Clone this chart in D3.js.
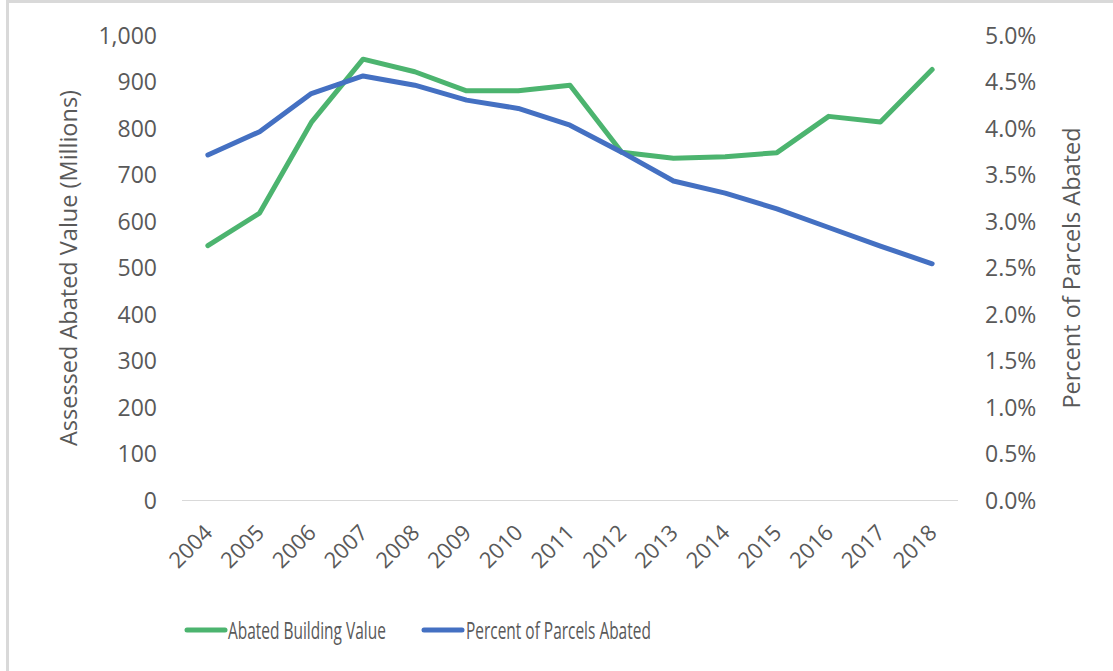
<!DOCTYPE html>
<html>
<head>
<meta charset="utf-8">
<script src="https://cdn.jsdelivr.net/npm/d3@7"></script>
<style>
  html, body { margin: 0; padding: 0; background: #fff; }
  svg { display: block; }
  text { font-family: "Open Sans", "Noto Sans", sans-serif; fill: #595959; }
</style>
</head>
<body>
<svg id="chart" width="1113" height="671"></svg>
<script>
// Years on the category axis
const years = ["2004","2005","2006","2007","2008","2009","2010","2011","2012","2013","2014","2015","2016","2017","2018"];
// Assessed abated building value, millions of dollars (left axis)
const abatedValue = [547, 617, 812, 948, 921, 880, 880, 892, 748, 735, 738, 747, 825, 813, 926];
// Share of parcels abated, percent (right axis)
const pctAbated = [3.71, 3.96, 4.37, 4.56, 4.46, 4.30, 4.21, 4.03, 3.74, 3.43, 3.30, 3.13, 2.93, 2.73, 2.54];
// Tick values for both value axes
const leftTicks = [0, 100, 200, 300, 400, 500, 600, 700, 800, 900, 1000];
const rightTicks = [0, 0.5, 1.0, 1.5, 2.0, 2.5, 3.0, 3.5, 4.0, 4.5, 5.0];
// Series names
const seriesNames = ["Abated Building Value", "Percent of Parcels Abated"];
const seriesColors = ["#4cb46f", "#4470c2"];

const svg = d3.select("#chart");

// outer frame
svg.append("rect")
  .attr("x", 7.5).attr("y", 1.5)
  .attr("width", 1130).attr("height", 700)
  .attr("fill", "#fff").attr("stroke", "#d9d9d9").attr("stroke-width", 3);

const plot = { left: 182, right: 958, top: 35, bottom: 500 };

const x = d3.scaleBand().domain(years).range([plot.left, plot.right]);
const cx = d => x(d) + x.bandwidth() / 2;
const yL = d3.scaleLinear().domain([0, 1000]).range([plot.bottom, plot.top]);
const yR = d3.scaleLinear().domain([0, 5]).range([plot.bottom, plot.top]);

// baseline
svg.append("line")
  .attr("x1", plot.left).attr("x2", plot.right)
  .attr("y1", yL(0) + 0.5).attr("y2", yL(0) + 0.5)
  .attr("stroke", "#d9d9d9").attr("stroke-width", 1);

// left axis labels
const fmtL = d3.format(",");
const leftAxis = d3.axisLeft(yL).tickValues(leftTicks).tickFormat(fmtL).tickSize(0).tickPadding(0);
const gL = svg.append("g").attr("transform", `translate(157,0)`).call(leftAxis);
gL.select(".domain").remove();
gL.selectAll("text").attr("font-size", 23).attr("fill", "#595959")
  .attr("font-family", "Open Sans, sans-serif").attr("dy", "0.35em");

// right axis labels
const fmtR = d => d3.format(".1f")(d) + "%";
const rightAxis = d3.axisRight(yR).tickValues(rightTicks).tickFormat(fmtR).tickSize(0).tickPadding(0);
const gR = svg.append("g").attr("transform", `translate(985,0)`).call(rightAxis);
gR.select(".domain").remove();
gR.selectAll("text").attr("font-size", 23).attr("fill", "#595959")
  .attr("font-family", "Open Sans, sans-serif").attr("dy", "0.35em");

// category labels, rotated
svg.append("g").selectAll("text").data(years).join("text")
  .attr("transform", d => `translate(${cx(d) + 6},534) rotate(-45)`)
  .attr("text-anchor", "end")
  .attr("font-size", 22)
  .text(d => d);

// axis titles
svg.append("text")
  .attr("transform", `translate(77,268) rotate(-90)`)
  .attr("text-anchor", "middle")
  .attr("font-size", 23.5)
  .text("Assessed Abated Value (Millions)");

svg.append("text")
  .attr("transform", `translate(1080,268) rotate(-90)`)
  .attr("text-anchor", "middle")
  .attr("font-size", 23.5)
  .text("Percent of Parcels Abated");

// series lines
const lineL = d3.line().x((d, i) => cx(years[i])).y(d => yL(d));
const lineR = d3.line().x((d, i) => cx(years[i])).y(d => yR(d));

svg.append("path").datum(abatedValue)
  .attr("d", lineL).attr("fill", "none")
  .attr("stroke", seriesColors[0]).attr("stroke-width", 5)
  .attr("stroke-linejoin", "round").attr("stroke-linecap", "round");

svg.append("path").datum(pctAbated)
  .attr("d", lineR).attr("fill", "none")
  .attr("stroke", seriesColors[1]).attr("stroke-width", 5)
  .attr("stroke-linejoin", "round").attr("stroke-linecap", "round");

// legend: tall, horizontally condensed labels squeezed into their slots
const legendItems = [
  { name: seriesNames[0], color: seriesColors[0], x0: 187, x1: 225, tx: 228, tw: 158 },
  { name: seriesNames[1], color: seriesColors[1], x0: 424, x1: 462, tx: 466, tw: 185 }
];
const lg = svg.append("g");
lg.selectAll("line").data(legendItems).join("line")
  .attr("x1", d => d.x0).attr("x2", d => d.x1)
  .attr("y1", 630).attr("y2", 630)
  .attr("stroke", d => d.color).attr("stroke-width", 5).attr("stroke-linecap", "round");
lg.selectAll("g").data(legendItems).join("g")
  .each(function(d) {
    const g = d3.select(this);
    const t = g.append("text")
      .attr("x", 0).attr("y", 0)
      .attr("font-size", 24.5)
      .text(d.name);
    const w = t.node().getComputedTextLength();
    g.attr("transform", `translate(${d.tx},638.5) scale(${d.tw / w},1)`);
  });
</script>
</body>
</html>
